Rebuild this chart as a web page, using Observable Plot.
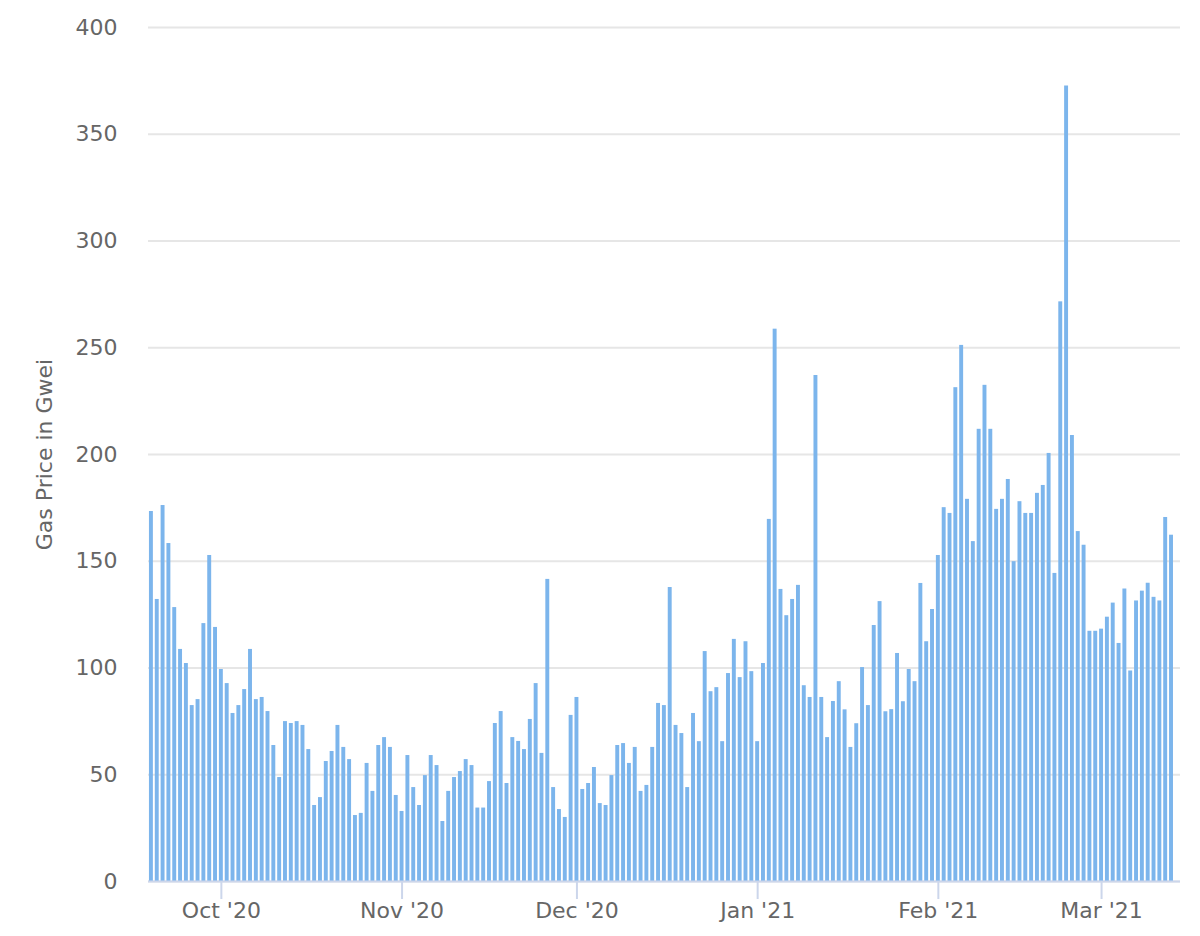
<!DOCTYPE html>
<html>
<head>
<meta charset="utf-8">
<script src="https://cdn.jsdelivr.net/npm/d3@7"></script>
<script src="https://cdn.jsdelivr.net/npm/@observablehq/plot@0.6"></script>
<style>
  html, body { margin: 0; padding: 0; background: #ffffff; }
  #chart svg { display: block; }
</style>
</head>
<body>
<div id="chart"></div>
<script>
// Daily average gas price (Gwei), one value per day starting 2020-09-19
const firstDay = "2020-09-19";
const sep20 = [173.3,132.1,176.1,158.3,128.3,108.7,102.1,82.4,85.2,120.8,152.7,119.0];
const oct20 = [99.3,92.7,78.7,82.4,89.9,108.7,85.2,86.2,79.6,63.7,48.7,74.9,74.0,74.9,73.1,61.8,35.6,39.3,56.2,60.9,73.1,62.8,57.1,30.9,31.9,55.3,42.2,63.7,67.4,62.8,40.3];
const nov20 = [32.8,59.0,44.0,35.6,49.6,59.0,54.3,28.1,42.2,48.7,51.5,57.1,54.3,34.4,34.4,46.8,74.0,79.6,45.9,67.4,65.6,61.8,75.9,92.7,60.0,141.5,44.0,33.7,30.0,77.8];
const dec20 = [86.2,43.1,45.9,53.4,36.5,35.6,49.6,63.7,64.6,55.3,62.8,42.2,45.0,62.8,83.4,82.4,137.7,73.1,69.3,44.0,78.7,65.5,107.7,88.9,90.8,65.5,97.4,113.4,95.5,112.3,98.3];
const jan21 = [65.5,102.1,169.6,258.7,136.8,124.5,132.1,138.7,91.7,86.2,237.0,86.2,67.4,84.3,93.6,80.4,62.8,73.9,100.2,82.4,119.9,131.1,79.5,80.5,106.8,84.2,99.3,93.6,139.6,112.3,127.4];
const feb21 = [152.7,175.1,172.4,231.3,251.1,179.0,159.2,211.8,232.4,211.8,174.3,179.0,188.3,149.8,177.9,172.4,172.4,181.8,185.5,200.5,144.3,271.5,372.6,208.9,163.9,157.5,117.2,117.2];
const mar21 = [118.2,123.8,130.4,111.5,137.0,98.6,131.4,136.0,139.7,133.1,131.4,170.5,162.2];

const tickDates = ["2020-10-01","2020-11-01","2020-12-01","2021-01-01","2021-02-01","2021-03-01"];
const tickLabels = ["Oct '20","Nov '20","Dec '20","Jan '21","Feb '21","Mar '21"];
const yTicks = [0,50,100,150,200,250,300,350,400];
const yTitle = "Gas Price in Gwei";

const values = [...sep20, ...oct20, ...nov20, ...dec20, ...jan21, ...feb21, ...mar21];
const start = new Date(firstDay + "T00:00:00Z");
const rows = values.map((v, i) => ({date: d3.utcDay.offset(start, i), price: v}));
const ticks = tickDates.map(s => new Date(s + "T00:00:00Z"));

const chart = Plot.plot({
  width: 1200,
  height: 936,
  marginLeft: 148,
  marginRight: 20,
  marginTop: 27,
  marginBottom: 55,
  style: {fontFamily: "'DejaVu Sans', 'Open Sans', sans-serif", fontSize: "22px", color: "#666666", background: "#ffffff"},
  x: {type: "utc", domain: [new Date("2020-09-18T12:00:00Z"), new Date("2021-03-14T13:00:00Z")]},
  y: {domain: [0, 400]},
  marks: [
    Plot.gridY(yTicks, {stroke: "#e6e6e6", strokeOpacity: 1, strokeWidth: 2}),
    Plot.rectY(rows, {
      x1: d => d3.utcHour.offset(d.date, -12),
      x2: d => d3.utcHour.offset(d.date, 12),
      y: "price",
      fill: "#7cb5ec",
      insetLeft: 0.95,
      insetRight: 0.95
    }),
    Plot.ruleY([0], {stroke: "#ccd6eb", strokeWidth: 2}),
    Plot.axisY(yTicks, {tickSize: 0, tickPadding: 31, label: null, fill: "#666666", fontSize: 22}),
    Plot.axisX(ticks, {
      tickSize: 18,
      tickPadding: 3,
      stroke: "#ccd6eb",
      strokeWidth: 2,
      fill: "#666666",
      fontSize: 22,
      label: null,
      tickFormat: d => tickLabels[ticks.findIndex(t => +t === +d)]
    }),
    Plot.text([yTitle], {
      text: d => d,
      frameAnchor: "left",
      dx: -104,
      rotate: -90,
      textAnchor: "middle",
      lineAnchor: "middle",
      fill: "#666666",
      fontSize: 22
    })
  ]
});
document.getElementById("chart").appendChild(chart);
</script>
</body>
</html>
